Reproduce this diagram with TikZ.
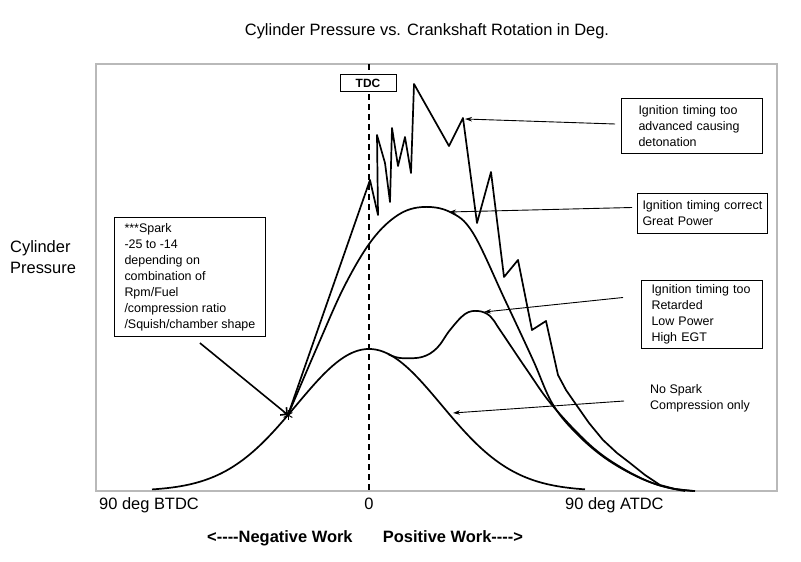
\documentclass[tikz,border=0pt]{standalone}
\usepackage{fontspec}
\setmainfont{Liberation Sans}[Ligatures=TeXOff]
\usetikzlibrary{arrows.meta, positioning}

\newcommand\lblfont{\fontsize{12.5}{16}\selectfont}
\newcommand\axisfont{\fontsize{16.5}{21.5}\selectfont}

\begin{document}
\begin{tikzpicture}[x=1bp, y=-1bp,
    every node/.style={inner sep=0pt},
    box/.style={draw, line width=1bp, align=left, font=\lblfont, anchor=north west},
    curve/.style={line width=1.7bp, line join=round},
    pointer/.style={line width=0.9bp, -{Stealth[length=7bp, width=4.5bp]}}]

\useasboundingbox (0,0) rectangle (801,562);

% Title
\node[font=\axisfont] (title) at (427,31) {Cylinder Pressure vs. Crankshaft Rotation in Deg.};

% Plot frame
\draw[gray!55, line width=1.3bp] (96,64) rectangle (777,491);

% TDC line with its tag
\coordinate (tdc-top) at (369,64);
\coordinate (tdc-bot) at (369,491);
\draw[line width=1.6bp, dash pattern=on 6bp off 4bp] (tdc-top) -- (tdc-bot);
\node[draw, fill=white, line width=1bp, minimum width=56bp, minimum height=17bp, font=\bfseries\fontsize{12}{14}\selectfont] (tdc) at (368,83.5) {TDC};

% No spark - compression only
\draw[curve] plot[domain=152:585, samples=90, smooth] (\x, {491-142*exp(-0.5*((\x-369)/72.4)^2)});
\coordinate (spark-pt) at (288,415);

% Ignition timing correct
\draw[curve] plot[smooth, tension=0.6] coordinates {(288,415) (318,345) (345,285) (372,240) (398,215) (423,207) (450,212) (473,233) (505,300) (533,360) (552,403) (575,432) (605,458) (640,478) (670,488) (695,491)};

% Ignition timing retarded
\draw[curve] plot[smooth, tension=0.6] coordinates {(388,354) (400,358) (422,357) (437,348) (450,330) (465,314) (478,311) (490,316) (500,330) (527,370) (552,405) (590,445) (622,468) (655,484) (685,491)};

% Ignition timing advanced - detonation
\draw[curve] (spark-pt) -- (370,180) -- (378,215) -- (377,135) -- (385,163) -- (390,202) -- (392,128) -- (398,166) -- (405,137) -- (411,173) -- (414,84) -- (449,146) -- (463,118) -- (477,223) -- (491,172) -- (504,277) -- (518,260) -- (532,330) -- (546,321) -- (558,375) -- (566,390) -- (575,403) -- (589,423) -- (603,440) -- (617,453) -- (630,463) -- (645,475) -- (660,485) -- (675,489) -- (693,491);

% Spark note
\node[box, inner xsep=10bp, minimum height=119bp] (spark) at (114,217) {***Spark\\-25 to -14\\depending on\\combination of\\Rpm/Fuel\\/compression ratio\\/Squish/chamber shape};
\draw[line width=1.6bp, -{Straight Barb[length=5bp, width=10bp]}] ([xshift=10bp, yshift=-6bp]spark.south) -- (spark-pt);
\foreach \a in {90,30,150} {
    \draw[line width=1bp] ([shift={(\a:5bp)}]spark-pt) -- ([shift={(\a+180:5bp)}]spark-pt);
}

% Curve labels (right side)
\node[box, inner xsep=17bp, text width=107bp, minimum height=55bp] (det) at (621,98) {Ignition timing too\\advanced causing\\detonation};
\coordinate (det-pk) at (465,119);
\draw[pointer] ([xshift=-6bp, yshift=2bp]det.west) -- (det-pk);

\node[box, inner xsep=5bp, text width=120bp, minimum height=40bp] (gp) at (637,193) {Ignition timing correct\\Great Power};
\coordinate (gp-pk) at (449,212);
\draw[pointer] ([xshift=-5bp, yshift=6bp]gp.west) -- (gp-pk);

\node[box, inner xsep=10bp, text width=101bp, minimum height=68bp] (ret) at (641,280) {Ignition timing too\\Retarded\\Low Power\\High EGT};
\coordinate (ret-pk) at (484,312);
\draw[pointer] ([xshift=-18bp, yshift=17bp]ret.west) -- (ret-pk);

\node[font=\lblfont, align=left, anchor=west] (nospark) at (650,398) {No Spark\\Compression only};
\coordinate (nospark-pt) at (453,413);
\draw[pointer] ([xshift=-26bp, yshift=-3bp]nospark.west) -- (nospark-pt);

% Axis labels
\node[font=\axisfont, align=left, anchor=west] (ylabel) at (10,257) {Cylinder\\Pressure};
\node[font=\axisfont, anchor=base west] (btdc) at (99,509) {90 deg BTDC};
\node[font=\axisfont, anchor=base] (zero) at (369,509) {0};
\node[font=\axisfont, anchor=base west] (atdc) at (565,509) {90 deg ATDC};
\node[font=\axisfont\bfseries, anchor=base west] (negwork) at (207,542) {<----Negative Work};
\node[font=\axisfont\bfseries, right=30bp of negwork.base east, anchor=base west] (poswork) {Positive Work---->};
\end{tikzpicture}
\end{document}
